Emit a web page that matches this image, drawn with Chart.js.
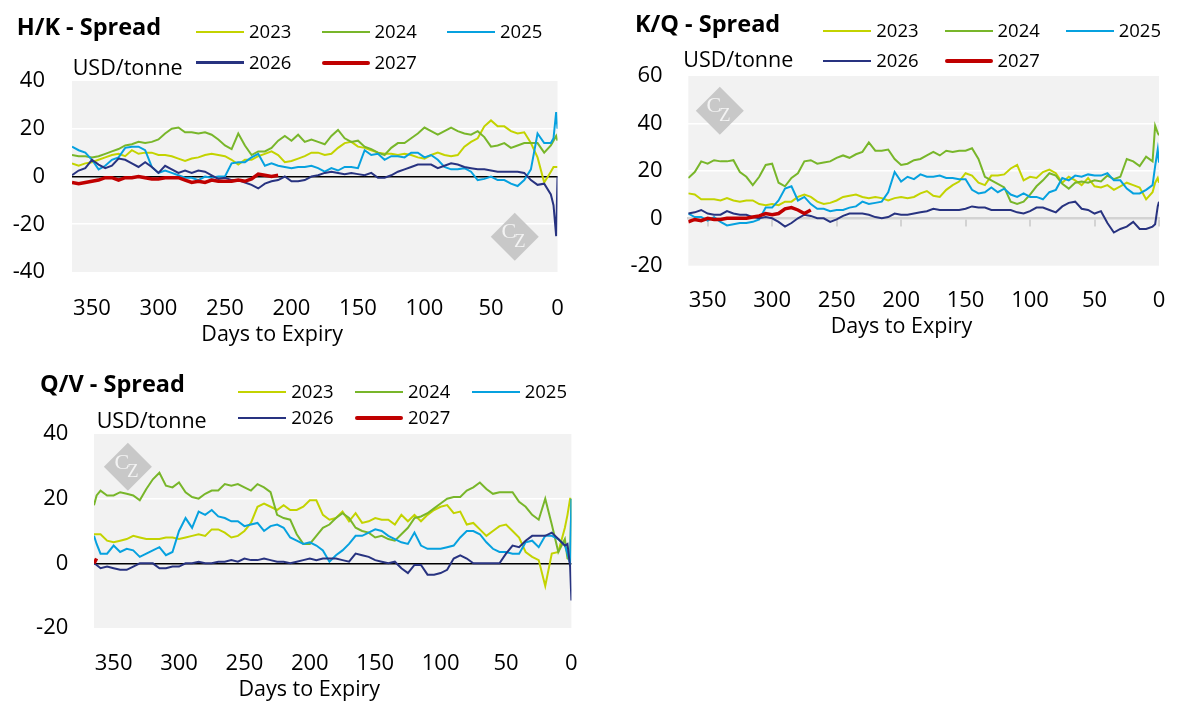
<!DOCTYPE html>
<html>
<head>
<meta charset="utf-8">
<title>Spreads</title>
<script src="https://cdn.jsdelivr.net/npm/chart.js@4.4.1/dist/chart.umd.min.js"></script>
<style>
  body { margin: 0; width: 1187px; height: 713px; background: #fff; overflow: hidden;
         font-family: 'Open Sans', sans-serif; color: #000; }
  .panel { position: absolute; }
  .panel canvas { position: absolute; left: 0; top: 0; }
  .txt { position: absolute; line-height: 1; white-space: nowrap; }
  .ttl { font-size: 23.5px; font-weight: 700; }
  .unit { font-size: 21.5px; }
  .leg-line { position: absolute; width: 48px; }
  .leg-txt { position: absolute; font-size: 18.5px; line-height: 1; }
</style>
</head>
<body>
<script>
// days to expiry (x categories)
const days = [365,360,355,350,345,340,335,330,325,320,315,310,305,300,295,290,285,280,275,270,
  265,260,255,250,245,240,235,230,225,220,215,210,205,200,195,190,185,180,175,170,
  165,160,155,150,145,140,135,130,125,120,115,110,105,100,95,90,85,80,75,70,
  65,60,55,50,45,40,35,30,25,20,15,10,5,3,1,0];
const qvDays = [365,363,360,355,350,345,340,335,330,325,320,315,310,305,300,295,290,285,280,275,270,
  265,260,255,250,245,240,235,230,225,220,215,210,205,200,195,190,185,180,175,170,
  165,160,155,150,145,140,135,130,125,120,115,110,105,100,95,90,85,80,75,70,
  65,60,55,50,45,40,35,30,25,20,15,10,5,3,1,0];

const years = ['2023', '2024', '2025', '2026', '2027'];

// H/K spread, USD/tonne
const hk2023 = [5.5,4.5,5.5,6,7,8,9,9.5,8.5,11, 9.5,10,10,9,9,8.5,7.5,6.5,7.5,8,
  9,9.5,9,8.5,7,5,7,7,8.5,9.5, 10.5,9,6,6.5,7.5,8.5,10,10,9,9.5,
  12,14,14.5,12.5,12,11,10,9.5,9.5,9, 9.5,9,8,7.5,9,10,9,8.5,9,12.5,
  14.5,16,21,23.5,21,21,19,18,18.5,14, 8,-2.5,2,4,4,4];
const hk2024 = [9,8.5,8.5,8,8.5,9.5,10.5,11.5,13,13.5, 14.5,14,14.5,15.5,18,20,20.5,18.5,18.5,18,
  18.5,17.5,15.5,13,11.5,18,13,9,10.5,10.5, 12,15,17,15,17.5,14.5,15.5,14.5,13.5,17,
  19.5,16,14.5,15,12.5,11.5,10,9,12,14, 14,16,18,20.5,19,17.5,19,20.5,19,18,
  17.5,19,16.5,12.5,13,14,12,13,14,14, 14,10,13,15,17,15];
const hk2025 = [12.5,11,10,7,3,4.5,7,8,12,12.5, 12.5,11,4,1.5,2.5,1.5,0.5,-0.5,-0.5,-1.5,
  0,-0.5,0,0,5.5,6,6,8,9.5,4.5, 5.5,4.5,4,3.5,4,4,4.5,3.5,2,3.5,
  2.5,4,4,3.5,11,9,9.5,7,8.5,8.5, 8,10,10,8,9,7,4,3,3,3.5,
  2,-1.5,-1,0,-1.5,-1.5,-3,-4,-1.5,3, 18,14,14,16,27,20];
const hk2026 = [0.5,2.5,3.5,7,5,3.5,4.5,7.5,7,5.5, 4,6,4,1.5,4.5,3,1.5,2.5,1.5,2.5,
  2,0.5,-1,-0.5,-1.5,-1.5,-2.5,-3.5,-5,-3, -2,-1.5,0,-2,-2,-1.5,0,0.5,1.5,2,
  1.5,1,1.5,1,0.5,1.5,-0.5,-0.5,0.5,2, 3,4,5,5,5,3.5,4.5,5.5,5,4,
  3.5,3,3,2.5,2,2,2,2,1.5,-1.5, -3.5,-3,-7.5,-12,-25,0];
const hk2027 = [-2.5,-3,-2.5,-2,-1.5,-0.5,-0.5,-1.5,-0.5,-0.5, 0,-0.5,-1,-1,-0.5,-0.5,-0.5,-1.5,-2.5,-2,
  -2.5,-1.5,-2,-2,-2,-1.5,-2,-1,1,0.5, 0,0.5];

// K/Q spread, USD/tonne
const kq2023 = [10.5,10,8,8,8,7.5,8.5,7.5,7,7.5, 7.5,6,5.5,6,5.5,7,7,9,10,9,
  7,6,6.5,7.5,9,9.5,10,9,8.5,9, 8.5,7.5,8.5,9,8.5,9,10.5,11.5,9.5,9,
  12,14,15.5,19,18,15,14,18,18,18.5, 21,22.5,16,17.5,17,19.5,20.5,19,15,17.5,
  16,14,17,13.5,13,14,12,13.5,15,14, 13,8,11,15,17,15];
const kq2024 = [17,19.5,24,23,24.5,24,24,24.5,19.5,17.5, 14,17.5,22.5,23,15,13.5,17,19,24,24.5,
  23,23.5,24,25.5,26.5,25.5,27,28,32,28.5, 28.5,29,25,22.5,23,24.5,25,26.5,28,26.5,
  28.5,28,28.5,28.5,29.5,25,17.5,16,14.5,13, 7,6,7,10,13.5,16,19,18,14.5,12.5,
  15,15.5,15,16,15.5,18,16.5,17.5,25,24, 22,26,24,39,36,35];
const kq2025 = [2,0.5,0.5,-1,0.5,-1.5,-3,-2.5,-2,-2, -1.5,-0.5,4.5,4.5,7.5,12.5,13.5,7.5,9,6,
  4,4,3,3.5,3.5,4.5,5,7,6,6.5, 7,11,19.5,15.5,17.5,16.5,18.5,17.5,17.5,18,
  17,17,16.5,16.5,12,10.5,11,13,11,12.5, 10,9,10.5,9,9,8,11,12,17,16,
  18,17.5,18.5,18,18,19,16,16,12.5,10.5, 10.5,12,14,22,29,23.5];
const kq2026 = [2,2.5,3.5,2,1.5,1.5,3,2,1.5,1.5, 0.5,0,0.5,0,-1.5,-3.5,-2,0,1.5,1,
  0,0,-1.5,-0.5,1,2,2,2,1.5,0.5, 0,0.5,2,1.5,1.5,2,2.5,3,4,3.5,
  3.5,3.5,3.5,4,5,4.5,4.5,3.5,3.5,3.5, 3.5,2.5,2,3,4.5,4.5,3.5,2.5,5,6.5,
  7,4,3.5,2,3,-2,-6,-4.5,-3.5,-1.5, -4.5,-4.5,-3.5,-2.5,5,7];
const kq2027 = [-1.5,-0.5,-1,0,-0.5,-0.5,0,0,0,0, 0.5,1,2,1.5,2,4,4.5,3.5,2,3.5];

// Q/V spread, USD/tonne
const qv2023 = [9,9, 9,7,6.5,7,7.5,8.5,8,7.5,7.5, 7.5,8,8,7.5,8,8.5,9,8.5,10.5,10.5,
  9.5,8,8.5,10,12.5,17.5,18.5,17.5,16.5,18, 16.5,16.5,17.5,19.5,19.5,15,13.5,14,16,13,
  15.5,12.5,13,14,13.5,13.5,12,15,13,15, 13,15,16.5,17.5,18,15.5,16,12,12.5,10.5,
  8.5,10,11.5,12,10,8,3.5,2,1,-7, 3,3.5,11,15,20,20];
const qv2024 = [18,21, 22.5,21,21,22,21.5,21,19.5,23,26, 28,24,23.5,25,22,20.5,20,21.5,22.5,22.5,
  24.5,24,24.5,23.5,22.5,24.5,23.5,22,15,14, 13.5,9,6,6,8.5,11,12,14,15.5,14,
  11,10,9.5,8,8.5,7.5,7,9,11,14, 14.5,15.5,17,18.5,20,20.5,20.5,22.5,23.5,25,
  23,21.5,22,22,22,19,17.5,15,13.5,20, 12,3.5,7.5,1.5,1,20];
const qv2025 = [8.5,6, 3,3,5.5,3.5,4.5,4,2,3,4, 5,2.5,3.5,10,14,11,16,15,16.5,14.5,
  14,13,13,11.5,12,12.5,10,11.5,12,11, 8,7,6,6.5,5.5,4,0.5,2.5,4,6,
  8.5,8.5,9.5,10.5,10,8.5,7.5,6.5,6,9.5, 5.5,4.5,4.5,4.5,5,5.5,8,10,10,9,
  6.5,4.5,3.5,3.5,3,3,6.5,7,5,8.5, 8.5,7.5,5.5,3,0,20];
const qv2026 = [0,-0.5, -1.5,-1,-1.5,-2,-2,-1,0,0,0, -1.5,-1.5,-1,-1,0,0,0.5,0,0,0.5,
  0.5,1,0.5,1.5,1,1,1.5,1,0.5,0.5, 0,0.5,1,1.5,1,1.5,1.5,1.5,1,0.5,
  3,2.5,2,1,0.5,0,0.5,-1.5,-3,-0.5, -0.5,-3.5,-3.5,-3,-2,1.5,2.5,1.5,0,0,
  0,0,0,3,5.5,5,7,8.5,8.5,8.5, 9.5,7.5,5.5,6,-1,-11.5];
const qv2027 = [0,1.5];

// series styling
const colors = ['#c3d300', '#78b62a', '#06a1df', '#283380', '#c00000'];
const widths = [2, 2, 2, 2, 3.5];

// panel geometry
const panels = [
  { left: 0, top: 0, w: 590, h: 350, plot: { l: 72, r: 557.5, t: 81, b: 272 },
    yMin: -40, yMax: 40, zero: '#000000', axisAtZero: false,
    yPad: 27, xPad: 23.6, xTitlePad: 2.5, xTitleShift: -42.6,
    title: 'H/K - Spread', titleX: 16.7, titleBase: 36,
    unitX: 72.7, unitBase: 75,
    legX: 196, legY: 31.7, legStep: 125.5, legRow: 30.8,
    mark: { fx: 0.912, fy: 0.815 } },
  { left: 600, top: 0, w: 587, h: 350, plot: { l: 88.3, r: 571, t: 76, b: 265.7 },
    yMin: -20, yMax: 60, zero: 'rgba(0,0,0,0)', axisAtZero: true,
    yPad: 25.6, xPad: 21.7, xTitlePad: 10.6, xTitleShift: -22.1,
    title: 'K/Q - Spread', titleX: 35, titleBase: 32.7,
    unitX: 83.3, unitBase: 67.3,
    legX: 223.3, legY: 30.7, legStep: 121.2, legRow: 30.5,
    mark: { fx: 0.067, fy: 0.183 } },
  { left: 0, top: 360, w: 600, h: 353, plot: { l: 94, r: 574.5, t: 74, b: 268 },
    yMin: -20, yMax: 40, zero: '#000000', axisAtZero: false,
    yPad: 25.7, xPad: 22.3, xTitlePad: 10, xTitleShift: -23.4,
    title: 'Q/V - Spread', titleX: 40, titleBase: 33,
    unitX: 96.7, unitBase: 68.3,
    legX: 238.3, legY: 32.3, legStep: 116.7, legRow: 26,
    mark: { fx: 0.071, fy: 0.169 } }
];

Chart.defaults.font.family = "'Open Sans', sans-serif";
Chart.defaults.color = '#000';

// grey plot background
const plotBg = {
  id: 'plotBg',
  beforeDraw(chart) {
    const { ctx, chartArea: a } = chart;
    ctx.save();
    ctx.fillStyle = '#f2f2f2';
    ctx.fillRect(a.left, a.top, a.right - a.left, a.bottom - a.top);
    ctx.restore();
  }
};

// CZ diamond watermark
const czMark = {
  id: 'czMark',
  beforeDatasetsDraw(chart, args, opts) {
    const { ctx, chartArea: a } = chart;
    const cx = a.left + opts.fx * (a.right - a.left);
    const cy = a.top + opts.fy * (a.bottom - a.top);
    const r = 24;
    ctx.save();
    ctx.fillStyle = '#c8c8c8';
    ctx.beginPath();
    ctx.moveTo(cx, cy - r);
    ctx.lineTo(cx + r, cy);
    ctx.lineTo(cx, cy + r);
    ctx.lineTo(cx - r, cy);
    ctx.closePath();
    ctx.fill();
    ctx.fillStyle = '#f3f3f3';
    ctx.textAlign = 'center';
    ctx.textBaseline = 'middle';
    ctx.font = '22px "Liberation Serif", serif';
    ctx.fillText('C', cx - 6, cy - 4);
    ctx.font = '19px "Liberation Serif", serif';
    ctx.fillText('Z', cx + 5, cy + 5);
    ctx.restore();
  }
};

// the x title sits left of the plot centre in the original
const titleShift = {
  id: 'titleShift',
  beforeDraw(chart, args, opts) {
    const xs = chart.scales.x;
    if (xs._shifted) return;
    const orig = xs.drawTitle.bind(xs);
    xs.drawTitle = function () {
      this.ctx.save();
      this.ctx.translate(opts.dx, 0);
      orig();
      this.ctx.restore();
    };
    xs._shifted = true;
  }
};

function addText(box, cls, text, x, top) {
  const d = document.createElement('div');
  d.className = 'txt ' + cls;
  d.textContent = text;
  d.style.left = x + 'px';
  d.style.top = top + 'px';
  box.appendChild(d);
}

function build(p, labels, series) {
  const box = document.createElement('div');
  box.className = 'panel';
  box.style.left = p.left + 'px';
  box.style.top = p.top + 'px';
  box.style.width = p.w + 'px';
  box.style.height = p.h + 'px';
  document.body.appendChild(box);

  const cv = document.createElement('canvas');
  cv.width = p.w;
  cv.height = p.h;
  box.appendChild(cv);

  const datasets = years.map((y, i) => ({
    label: y,
    data: series[i],
    xAxisID: 'x',
    yAxisID: 'y',
    borderColor: colors[i],
    backgroundColor: colors[i],
    borderWidth: widths[i],
    pointRadius: 0,
    tension: 0,
    fill: false,
    order: years.length - i
  }));

  const scales = {
    x: {
      type: 'linear', min: 0, max: 365, reverse: true,
      afterFit: s => { s.height = p.h - p.plot.b; },
      grid: { display: false, drawTicks: false },
      border: { display: false },
      ticks: { stepSize: 50, includeBounds: false, maxRotation: 0, autoSkip: false,
               padding: p.xPad, font: { size: 22 } },
      title: { display: true, text: 'Days to Expiry', font: { size: 21.5 },
               padding: { top: 0, bottom: p.xTitlePad } }
    },
    y: {
      min: p.yMin, max: p.yMax,
      afterFit: s => { s.width = p.plot.l; },
      border: { display: false },
      grid: {
        drawTicks: false,
        lineWidth: 1.6,
        color: c => c.tick.value === 0 ? p.zero
          : (c.tick.value === p.yMin || c.tick.value === p.yMax ? 'rgba(0,0,0,0)' : '#ffffff')
      },
      ticks: { stepSize: 20, padding: p.yPad, font: { size: 22 } }
    }
  };
  if (p.axisAtZero) {
    scales.x2 = {
      axis: 'x', type: 'linear', min: 0, max: 365, reverse: true,
      position: { y: 0 },
      ticks: { display: false, stepSize: 50, includeBounds: false },
      grid: { display: true, drawOnChartArea: false, drawTicks: true, tickLength: 7,
              color: '#d3d3d3', lineWidth: 2 },
      border: { display: true, color: '#d3d3d3', width: 2.5 }
    };
  }

  const chart = new Chart(cv, {
    type: 'line',
    data: { labels: labels, datasets: datasets },
    options: {
      responsive: false,
      animation: false,
      layout: { padding: { left: 0, top: p.plot.t, right: p.w - p.plot.r, bottom: 0 } },
      scales: scales,
      plugins: {
        legend: { display: false },
        tooltip: { enabled: false },
        czMark: p.mark,
        titleShift: { dx: p.xTitleShift }
      }
    },
    plugins: [titleShift, plotBg, czMark]
  });

  // header texts
  addText(box, 'ttl', p.title, p.titleX, p.titleBase - 0.888 * 23.5);
  addText(box, 'unit', 'USD/tonne', p.unitX, p.unitBase - 0.888 * 21.5);

  // html legend built from the chart datasets
  chart.data.datasets.forEach((ds, i) => {
    const cx = p.legX + (i % 3) * p.legStep;
    const cy = p.legY + Math.floor(i / 3) * p.legRow;
    const line = document.createElement('div');
    line.className = 'leg-line';
    const lw = ds.borderWidth > 2 ? 4 : 2.2;
    line.style.left = cx + 'px';
    line.style.top = (cy - lw / 2) + 'px';
    line.style.height = lw + 'px';
    line.style.background = ds.borderColor;
    line.style.borderRadius = lw > 3 ? '2px' : '0';
    box.appendChild(line);
    const t = document.createElement('div');
    t.className = 'leg-txt';
    t.textContent = ds.label;
    t.style.left = (cx + 53) + 'px';
    t.style.top = (cy - 0.531 * 18.5) + 'px';
    box.appendChild(t);
  });
  return chart;
}

build(panels[0], days, [hk2023, hk2024, hk2025, hk2026, hk2027]);
build(panels[1], days, [kq2023, kq2024, kq2025, kq2026, kq2027]);
build(panels[2], qvDays, [qv2023, qv2024, qv2025, qv2026, qv2027]);
</script>
</body>
</html>
